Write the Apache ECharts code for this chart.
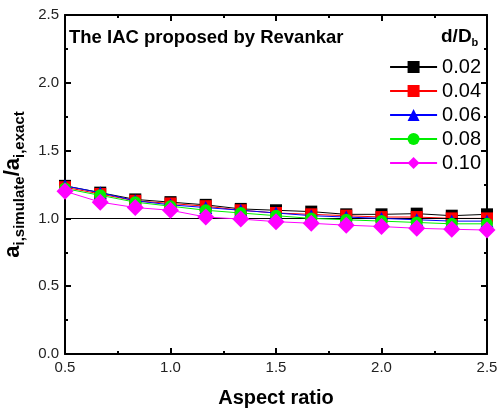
<!DOCTYPE html>
<html lang="en">
<head>
    <meta charset="UTF-8">
    <title>IAC Revankar</title>
    <script src="https://cdn.jsdelivr.net/npm/echarts@6/dist/echarts.min.js"></script>
    <style>
        html, body { margin: 0; padding: 0; background: #fff; }
        #charts { width: 499px; height: 412px; }
    </style>
</head>
<body>
<div id="charts"></div>
<script>
    // aspect ratio (x)
    var aspect = [0.5, 0.667, 0.833, 1.0, 1.167, 1.333, 1.5, 1.667, 1.833, 2.0, 2.167, 2.333, 2.5];
    // d/Db series names
    var names = ['0.02', '0.04', '0.06', '0.08', '0.10'];
    var s002 = [1.24, 1.19, 1.14, 1.12, 1.10, 1.07, 1.06, 1.05, 1.03, 1.03, 1.035, 1.02, 1.03];
    var s004 = [1.23, 1.18, 1.13, 1.11, 1.09, 1.06, 1.04, 1.03, 1.02, 1.01, 1.01, 1.00, 1.00];
    var s006 = [1.24, 1.19, 1.13, 1.10, 1.08, 1.06, 1.04, 1.02, 1.01, 1.00, 0.99, 0.98, 0.98];
    var s008 = [1.22, 1.17, 1.12, 1.09, 1.06, 1.04, 1.02, 1.00, 0.99, 0.98, 0.97, 0.96, 0.96];
    var s010 = [1.20, 1.12, 1.08, 1.06, 1.01, 0.995, 0.976, 0.964, 0.95, 0.94, 0.927, 0.92, 0.914];
    var refLine = 1.0;

    var colors = ['#000000', '#ff0000', '#0000ff', '#00ee00', '#ff00ff'];
    var symbols = ['rect', 'rect', 'triangle', 'circle', 'diamond'];
    var sizes = [12, 12, 13, 12, 17];
    var values = [s002, s004, s006, s008, s010];

    var myChart = echarts.init(document.getElementById('charts'));
    var font = 'Liberation Sans, Arial, sans-serif';
    var grid = { left: 65, right: 12, top: 15, bottom: 58, outerBoundsMode: 'none', containLabel: false };

    function pairs(arr) {
        return arr.map(function (v, i) { return [aspect[i], v]; });
    }

    var series = values.map(function (arr, k) {
        return {
            name: names[k],
            type: 'line',
            data: pairs(arr),
            symbol: symbols[k],
            symbolSize: sizes[k],
            color: colors[k],
            lineStyle: { width: 1, color: colors[k] },
            itemStyle: { color: colors[k] },
            z: 3 + k
        };
    });
    series.unshift({
        name: 'ref',
        type: 'line',
        data: [],
        symbol: 'none',
        markLine: {
            silent: true,
            symbol: 'none',
            label: { show: false },
            lineStyle: { color: '#000', width: 1, type: 'solid' },
            data: [{ yAxis: refLine }]
        },
        z: 2
    });

    var option = {
        animation: false,
        grid: grid,
        textStyle: { fontFamily: font },
        legend: {
            orient: 'vertical',
            right: 13,
            top: 52,
            data: names,
            itemWidth: 47,
            itemHeight: 15,
            itemGap: 4,
            textStyle: { fontSize: 20, color: '#000', fontFamily: font }
        },
        graphic: [
            {
                type: 'text', left: 69, top: 28,
                style: { text: 'The IAC proposed by Revankar', font: 'bold 18.5px ' + font, fill: '#000' }
            },
            {
                type: 'text', left: 441, top: 27,
                style: {
                    text: '{m|d/D}{s|b}',
                    rich: {
                        m: { font: 'bold 19px ' + font, fill: '#000', lineHeight: 22 },
                        s: { font: 'bold 11px ' + font, fill: '#000', verticalAlign: 'bottom', lineHeight: 12, padding: [10, 0, 0, 0] }
                    }
                }
            }
        ],
        xAxis: [
            {
                type: 'value', min: 0.5, max: 2.5, interval: 0.5,
                name: 'Aspect ratio', nameLocation: 'middle', nameGap: 34,
                nameTextStyle: { fontSize: 20, fontWeight: 'bold', color: '#000' },
                axisLine: { onZero: false, lineStyle: { color: '#000', width: 2 } },
                axisTick: { inside: true, length: 6, lineStyle: { color: '#000', width: 2 } },
                minorTick: { show: true, splitNumber: 2, length: 3, lineStyle: { color: '#000', width: 2 } },
                axisLabel: { fontSize: 15, color: '#222', margin: 6, formatter: function (v) { return v.toFixed(1); } },
                splitLine: { show: false }
            },
            {
                type: 'value', min: 0.5, max: 2.5, interval: 0.5, position: 'top',
                axisLine: { onZero: false, lineStyle: { color: '#000', width: 2 } },
                axisTick: { inside: true, length: 6, lineStyle: { color: '#000', width: 2 } },
                minorTick: { show: true, splitNumber: 2, length: 3, lineStyle: { color: '#000', width: 2 } },
                axisLabel: { show: false },
                splitLine: { show: false }
            }
        ],
        yAxis: [
            {
                type: 'value', min: 0, max: 2.5, interval: 0.5,
                name: '{a|a}{s|i,simulate}{a|/a}{s|i,exact}',
                nameLocation: 'middle', nameGap: 31, nameRotate: 90,
                nameTextStyle: {
                    rich: {
                        a: { fontSize: 22, fontWeight: 'bold', color: '#000', lineHeight: 24 },
                        s: { fontSize: 15, fontWeight: 'bold', color: '#000', verticalAlign: 'bottom', padding: [14, 0, 0, 0] }
                    }
                },
                axisLine: { onZero: false, lineStyle: { color: '#000', width: 2 } },
                axisTick: { inside: true, length: 6, lineStyle: { color: '#000', width: 2 } },
                minorTick: { show: true, splitNumber: 2, length: 3, lineStyle: { color: '#000', width: 2 } },
                axisLabel: { fontSize: 15, color: '#222', margin: 6, formatter: function (v) { return v.toFixed(1); } },
                splitLine: { show: false }
            },
            {
                type: 'value', min: 0, max: 2.5, interval: 0.5, position: 'right',
                axisLine: { show: true, onZero: false, lineStyle: { color: '#000', width: 2 } },
                axisTick: { show: true, inside: true, length: 6, lineStyle: { color: '#000', width: 2 } },
                minorTick: { show: true, splitNumber: 2, length: 3, lineStyle: { color: '#000', width: 2 } },
                axisLabel: { show: false },
                splitLine: { show: false }
            }
        ],
        series: series
    };
    myChart.setOption(option);
</script>
</body>
</html>
